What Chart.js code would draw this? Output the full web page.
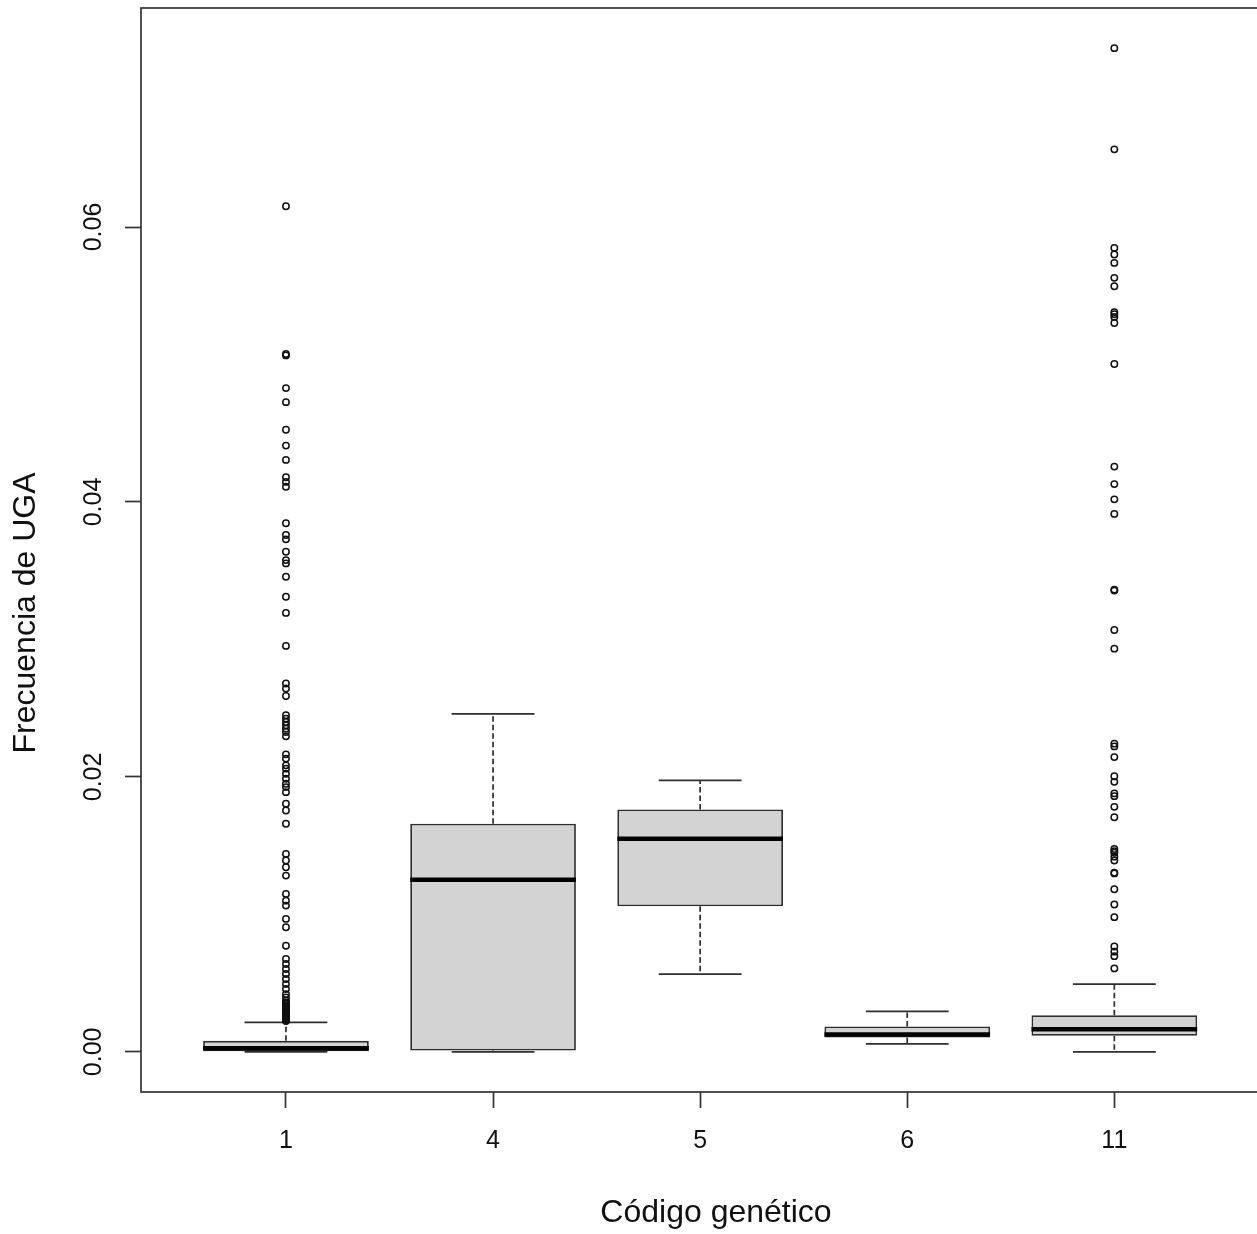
<!DOCTYPE html>
<html lang="es">
<head>
<meta charset="utf-8">
<title>Frecuencia de UGA por código genético</title>
<script src="https://cdn.jsdelivr.net/npm/chart.js@4.4.1/dist/chart.umd.min.js"></script>
<style>
  html, body { margin: 0; padding: 0; background: #fff; overflow: hidden; }
  canvas { display: block; }
</style>
</head>
<body>
<canvas id="chart" width="1264" height="1234"></canvas>
<script>
'use strict';

// Boxplot summary per genetic code
const categories = ['1', '4', '5', '6', '11'];
const whiskerLow = [0, 0, 0.00566, 0.00058, 0];
const q1 = [0, 0.0001, 0.01059, 0.00104, 0.00117];
const median = [0.00027, 0.01251, 0.0155, 0.00126, 0.00165];
const q3 = [0.0008, 0.01659, 0.01763, 0.00184, 0.00267];
const whiskerHigh = [0.00214, 0.02458, 0.01975, 0.00294, 0.00493];

const outliers1 = [
  0.06151, 0.05076, 0.05066, 0.04828, 0.04726, 0.04525, 0.04410, 0.04306, 0.04180, 0.04146,
  0.04111, 0.03845, 0.03760, 0.03728, 0.03638, 0.03577, 0.03553, 0.03456, 0.03310, 0.03193,
  0.02953, 0.02679, 0.02643, 0.02589, 0.02448, 0.02424, 0.02399, 0.02375, 0.02351, 0.02327,
  0.02295, 0.02164, 0.02133, 0.02084, 0.02060, 0.02023, 0.01987, 0.01950, 0.01926, 0.01889,
  0.01805, 0.01756, 0.01659, 0.01440, 0.01392, 0.01343, 0.01282, 0.01149, 0.01100, 0.01064,
  0.00967, 0.00906, 0.00772, 0.00675, 0.00639, 0.00603, 0.00566, 0.00530, 0.00493, 0.00457,
  0.00420, 0.00396, 0.00372, 0.00360, 0.00348, 0.00340, 0.00330, 0.00323, 0.00315, 0.00305,
  0.00299, 0.00290, 0.00285, 0.00275, 0.00270, 0.00262, 0.00255, 0.00250, 0.00245, 0.00238,
  0.00232, 0.00228, 0.00224
];
const outliers4 = [];
const outliers5 = [];
const outliers6 = [];
const outliers11 = [
  0.07301, 0.06565, 0.05848, 0.05800, 0.05739, 0.05630, 0.05569, 0.05380, 0.05365, 0.05346,
  0.05302, 0.05003, 0.04257, 0.04130, 0.04019, 0.03913, 0.03362, 0.03355, 0.03069, 0.02933,
  0.02242, 0.02222, 0.02144, 0.02005, 0.01964, 0.01880, 0.01860, 0.01782, 0.01707, 0.01476,
  0.01460, 0.01448, 0.01420, 0.01392, 0.01303, 0.01298, 0.01183, 0.01072, 0.00980, 0.00766,
  0.00729, 0.00696, 0.00607
];
const yTicks = [0, 0.02, 0.04, 0.06];

const X_TITLE = 'Código genético';
const Y_TITLE = 'Frecuencia de UGA';

const INK = '#111';
const LINE = '#2e2e2e';
const AXIS = '#333';
const BOX_FILL = '#d3d3d3';
const FONT = "'Liberation Sans', Arial, Helvetica, sans-serif";

const outlierGroups = [outliers1, outliers4, outliers5, outliers6, outliers11];
const outlierPoints = outlierGroups.flatMap((vals, i) => vals.map(v => ({ x: i + 1, y: v })));
const boxData = categories.map((c, i) => ({ x: i + 1, y: [q1[i], q3[i]] }));

// R-style range: data extent plus 4% on each side
const allValues = [...whiskerLow, ...whiskerHigh, ...outlierGroups.flat()];
const lo = Math.min(...allValues);
const hi = Math.max(...allValues);
const pad = (hi - lo) * 0.04;

const boxPlotPlugin = {
  id: 'boxPlot',
  beforeDatasetsDraw(chart) {
    const { ctx, scales: { y } } = chart;
    const bars = chart.getDatasetMeta(1).data;
    ctx.save();
    ctx.strokeStyle = LINE;
    ctx.lineWidth = 1.7;
    bars.forEach((bar, i) => {
      const { x, width } = bar.getProps(['x', 'width'], true);
      const cap = width / 4;
      ctx.setLineDash([5.5, 3]);
      ctx.beginPath();
      ctx.moveTo(x, y.getPixelForValue(q3[i]));
      ctx.lineTo(x, y.getPixelForValue(whiskerHigh[i]));
      ctx.moveTo(x, y.getPixelForValue(q1[i]));
      ctx.lineTo(x, y.getPixelForValue(whiskerLow[i]));
      ctx.stroke();
      ctx.setLineDash([]);
      ctx.beginPath();
      [whiskerHigh[i], whiskerLow[i]].forEach(v => {
        const py = y.getPixelForValue(v);
        ctx.moveTo(x - cap, py);
        ctx.lineTo(x + cap, py);
      });
      ctx.stroke();
    });
    ctx.restore();
  },
  afterDatasetsDraw(chart) {
    const { ctx, scales: { y } } = chart;
    const bars = chart.getDatasetMeta(1).data;
    ctx.save();
    ctx.strokeStyle = '#000';
    ctx.lineWidth = 4.5;
    bars.forEach((bar, i) => {
      const { x, width } = bar.getProps(['x', 'width'], true);
      const py = y.getPixelForValue(median[i]);
      ctx.beginPath();
      ctx.moveTo(x - width / 2, py);
      ctx.lineTo(x + width / 2, py);
      ctx.stroke();
    });
    ctx.restore();
  },
  afterDraw(chart, args, opts) {
    const { ctx, chartArea: a } = chart;
    ctx.save();
    ctx.strokeStyle = AXIS;
    ctx.lineWidth = 1.7;
    ctx.strokeRect(a.left, a.top, a.right - a.left, a.bottom - a.top);

    ctx.fillStyle = INK;
    ctx.font = `${opts.titleSize}px ${FONT}`;
    ctx.textAlign = 'center';
    ctx.textBaseline = 'middle';
    ctx.fillText(X_TITLE, opts.xTitle.x, opts.xTitle.y);
    ctx.translate(opts.yTitle.x, opts.yTitle.y);
    ctx.rotate(-Math.PI / 2);
    ctx.fillText(Y_TITLE, 0, 0);
    ctx.restore();
  }
};

const tickGrid = {
  display: true,
  offset: false,
  drawOnChartArea: false,
  drawTicks: true,
  tickLength: 16,
  tickColor: AXIS,
  tickWidth: 1.7
};

new Chart(document.getElementById('chart'), {
  type: 'bar',
  data: {
    datasets: [
      {
        type: 'scatter',
        data: outlierPoints,
        pointStyle: 'circle',
        pointRadius: 3.2,
        pointHoverRadius: 3.2,
        pointBorderWidth: 1.5,
        borderColor: INK,
        backgroundColor: 'rgba(0, 0, 0, 0)'
      },
      {
        type: 'bar',
        data: boxData,
        backgroundColor: BOX_FILL,
        borderColor: LINE,
        borderWidth: 1.8,
        borderSkipped: false,
        categoryPercentage: 1,
        barPercentage: 0.8
      }
    ]
  },
  options: {
    responsive: false,
    animation: false,
    events: [],
    layout: { padding: { top: 8, right: 2, left: 0, bottom: 0 } },
    plugins: {
      legend: { display: false },
      tooltip: { enabled: false },
      boxPlot: { titleSize: 32, xTitle: { x: 716, y: 1213 }, yTitle: { x: 26, y: 613 } }
    },
    scales: {
      x: {
        type: 'linear',
        offset: false,
        min: 0.3,
        max: categories.length + 0.7,
        afterBuildTicks: s => { s.ticks = categories.map((c, i) => ({ value: i + 1 })); },
        afterFit: s => { s.height = 142; s.paddingLeft = 0; s.paddingRight = 0; },
        ticks: {
          callback: v => categories[v - 1],
          autoSkip: false,
          maxRotation: 0,
          padding: 18,
          color: INK,
          font: { family: FONT, size: 25 }
        },
        grid: tickGrid,
        border: { display: false }
      },
      y: {
        type: 'linear',
        min: lo - pad,
        max: hi + pad,
        afterBuildTicks: s => { s.ticks = yTicks.map(v => ({ value: v })); },
        afterFit: s => { s.width = 141; s.paddingTop = 0; s.paddingBottom = 0; },
        ticks: {
          callback: v => v.toFixed(2),
          minRotation: 90,
          maxRotation: 90,
          crossAlign: 'center',
          padding: 7,
          color: INK,
          font: { family: FONT, size: 25 }
        },
        grid: tickGrid,
        border: { display: false }
      }
    }
  },
  plugins: [boxPlotPlugin]
});
</script>
</body>
</html>
